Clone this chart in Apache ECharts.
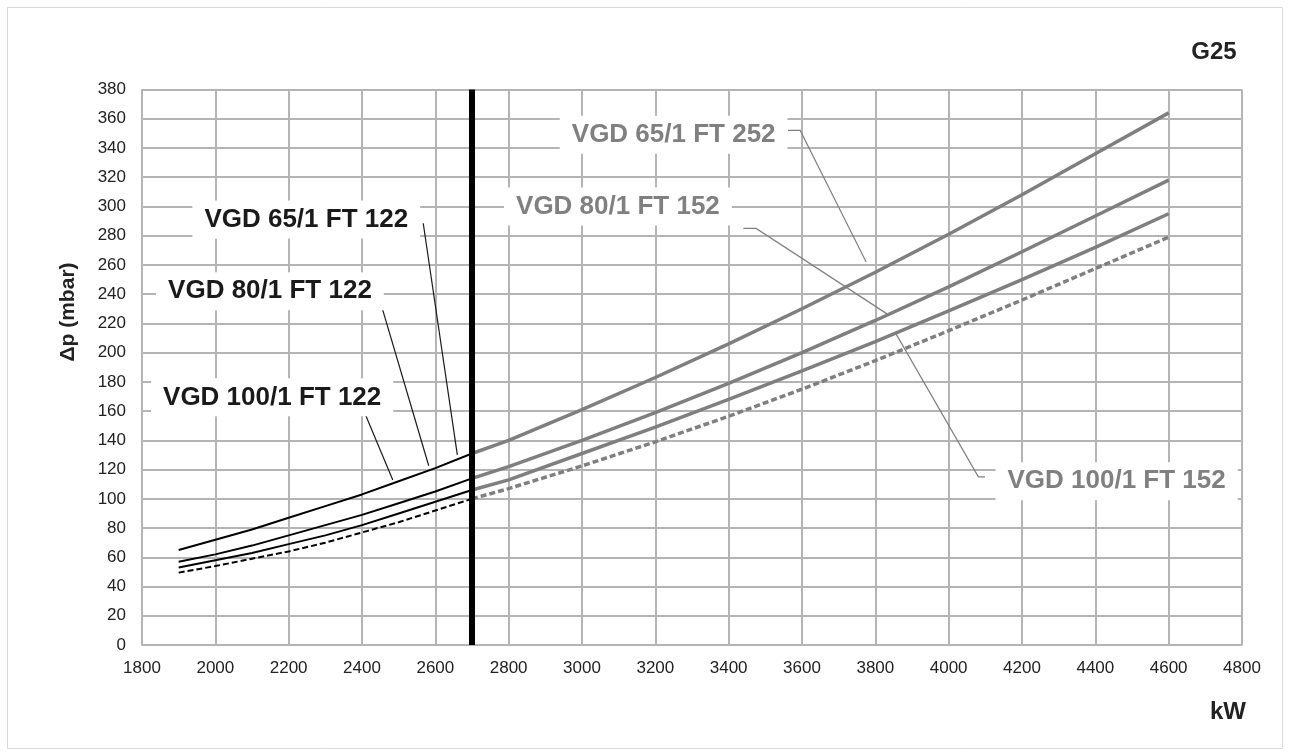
<!DOCTYPE html>
<html>
<head>
<meta charset="utf-8">
<script src="https://cdn.jsdelivr.net/npm/echarts@6/dist/echarts.min.js"></script>
<style>
  html, body { margin: 0; padding: 0; background: #fff; }
  #chart { width: 1290px; height: 756px; }
</style>
</head>
<body>
<div id="chart"></div>
<script>
// kW steps: black part up to the 2700 kW limit, grey part above it
const kwLow = [1900, 2000, 2100, 2200, 2300, 2400, 2500, 2600, 2700];
const kwHigh = [2700, 2800, 3000, 3200, 3400, 3600, 3800, 4000, 4200, 4400, 4600];

// pressure drop in mbar
const vgd65Low = [65, 72, 79, 87, 95, 103, 112, 121, 131];
const vgd80Low = [57, 62, 68, 75, 82, 89, 97, 105, 114];
const vgd100Low = [53, 58, 63, 69, 75, 82, 90, 98, 106];
const dashedLow = [49.5, 54, 59, 64, 70, 77, 84, 92, 100];

const vgd65High = [131, 140, 161, 183, 206, 230, 255, 281, 308, 336, 364];
const vgd80High = [114, 122, 140, 159, 179, 200, 222, 245, 269, 293.5, 318];
const vgd100High = [106, 113, 131, 149, 168, 187.5, 207.5, 228.5, 250, 272, 295];
const dashedHigh = [100, 107, 122.5, 139, 156.5, 175, 194.5, 215, 236, 257.5, 279];

const limitKw = [2700, 2700];
const limitMbar = [0, 380];

const xTicks = [1800, 4800, 200];
const yTicks = [0, 380, 20];

// label boxes and leader lines, in kW / mbar
const blackNotes = [
  { text: 'VGD 65/1 FT 122', at: [2248, 291], line: [[2567, 288.5], [2660, 130]] },
  { text: 'VGD 80/1 FT 122', at: [2149, 242], line: [[2452, 233], [2582, 122.6]] },
  { text: 'VGD 100/1 FT 122', at: [2155, 169.4], line: [[2406, 159.6], [2484, 112.9]] }
];
const greyNotes = [
  { text: 'VGD 65/1 FT 252', at: [3250, 349], line: [[3562, 352], [3595, 352], [3775, 262]] },
  { text: 'VGD 80/1 FT 152', at: [3098, 300], line: [[3440, 285], [3475, 285], [3835, 226]] },
  { text: 'VGD 100/1 FT 152', at: [4458, 112], line: [[4099, 115], [4081, 115], [3856, 213]] }
];

const pairs = (xs, ys) => xs.map((x, i) => [x, ys[i]]);

const chart = echarts.init(document.getElementById('chart'));

const GRID = '#b4b4b4';
const GREY = '#7f7f7f';

function curve(xs, ys, color, width, dashed) {
  return {
    type: 'line',
    data: pairs(xs, ys),
    symbol: 'none',
    silent: true,
    lineStyle: { color: color, width: width, type: dashed ? [6, 3] : 'solid' },
    z: 3
  };
}

const option = {
  animation: false,
  backgroundColor: '#fff',
  grid: { left: 142, right: 48, top: 89.5, bottom: 111, containLabel: false, outerBoundsMode: 'none' },
  xAxis: {
    type: 'value',
    min: xTicks[0], max: xTicks[1], interval: xTicks[2],
    axisLine: { show: true, lineStyle: { color: GRID, width: 1.5 } },
    axisTick: { show: false },
    axisLabel: { color: '#222', fontSize: 17, fontFamily: 'Liberation Sans, Arial', margin: 15, formatter: v => String(v) },
    splitLine: { show: true, lineStyle: { color: GRID, width: 2 } }
  },
  yAxis: {
    type: 'value',
    min: yTicks[0], max: yTicks[1], interval: yTicks[2],
    axisLine: { show: true, lineStyle: { color: GRID, width: 1.5 } },
    axisTick: { show: false },
    axisLabel: { color: '#222', fontSize: 17, fontFamily: 'Liberation Sans, Arial', margin: 16 },
    splitLine: { show: true, lineStyle: { color: GRID, width: 2 } }
  },
  series: [
    curve(kwLow, vgd65Low, '#000', 2),
    curve(kwLow, vgd80Low, '#000', 2),
    curve(kwLow, vgd100Low, '#000', 2),
    curve(kwLow, dashedLow, '#000', 2, true),
    curve(kwHigh, vgd65High, GREY, 3.5),
    curve(kwHigh, vgd80High, GREY, 3.5),
    curve(kwHigh, vgd100High, GREY, 3.5),
    curve(kwHigh, dashedHigh, GREY, 3.5, true),
    {
      type: 'line',
      data: pairs(limitKw, limitMbar),
      symbol: 'none',
      silent: true,
      lineStyle: { color: '#000', width: 6 },
      z: 5
    }
  ]
};

chart.setOption(option);

function toPx(p) { return chart.convertToPixel({ gridIndex: 0 }, p); }

const graphics = [
  { type: 'rect', shape: { x: 7.5, y: 7.5, width: 1275, height: 741 },
    style: { fill: 'none', stroke: '#d9d9d9', lineWidth: 1 }, silent: true },
  { type: 'text', x: 1214, y: 52,
    style: { text: 'G25', font: 'bold 24px "Liberation Sans", Arial', fill: '#222', align: 'center', verticalAlign: 'middle' } },
  { type: 'text', x: 1228, y: 712,
    style: { text: 'kW', font: 'bold 24px "Liberation Sans", Arial', fill: '#222', align: 'center', verticalAlign: 'middle' } },
  { type: 'text', x: 68, y: 312, rotation: Math.PI / 2,
    style: { text: '\u0394p (mbar)', font: 'bold 21px "Liberation Sans", Arial', fill: '#222', align: 'center', verticalAlign: 'middle' } }
];

function addNotes(notes, color) {
  notes.forEach(n => {
    graphics.push({
      type: 'polyline', z: 20, silent: true,
      shape: { points: n.line.map(toPx) },
      style: { stroke: color, lineWidth: 1.2, fill: 'none' }
    });
    const c = toPx(n.at);
    graphics.push({
      type: 'text', x: c[0], y: c[1], z: 21, silent: true,
      style: {
        text: n.text, font: 'bold 26px "Liberation Sans", Arial', fill: color,
        align: 'center', verticalAlign: 'middle',
        backgroundColor: '#fff', padding: [6, 12]
      }
    });
  });
}
addNotes(blackNotes, '#1a1a1a');
addNotes(greyNotes, '#808080');

chart.setOption({ graphic: graphics });
</script>
</body>
</html>
